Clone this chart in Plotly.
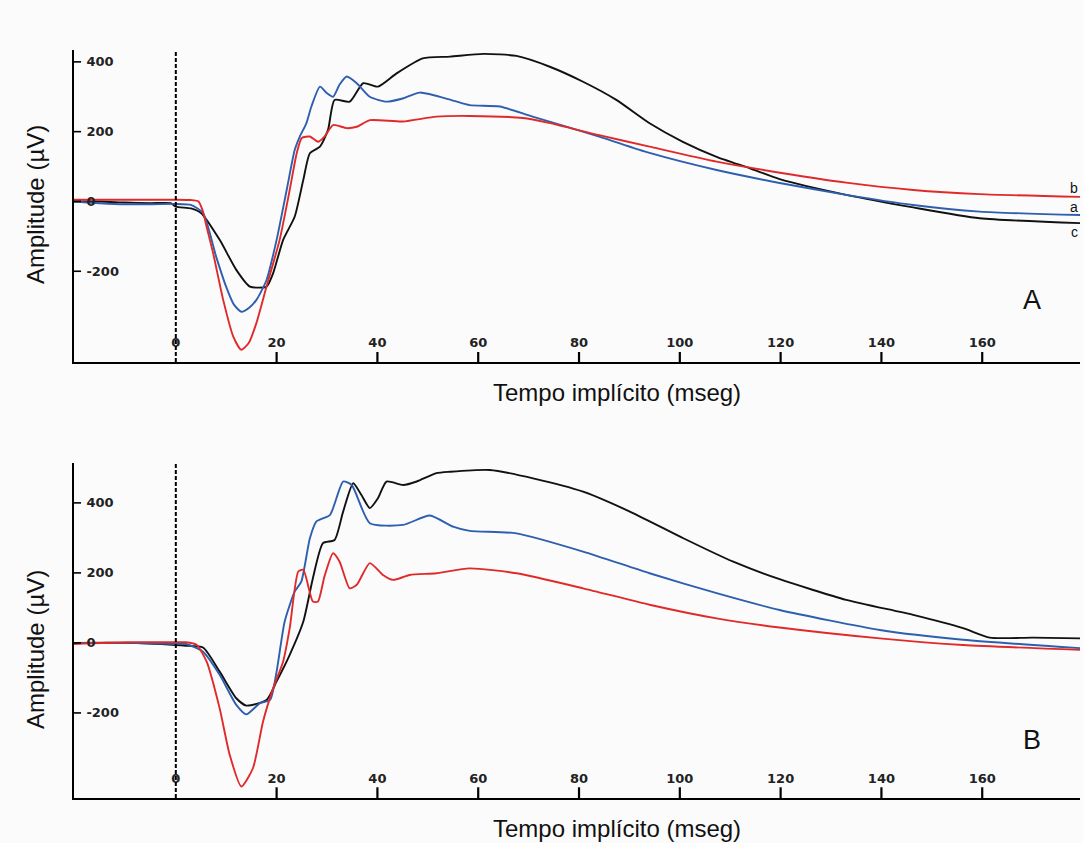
import plotly.graph_objects as go

# ---------------- Panel A data ----------------
a_red_x = [-20.2, -15, -10, -5, 0, 3, 4.5, 5.3, 6.1, 7.4, 9.4, 11.4, 13, 14.5, 16, 18, 20.6, 22.6, 24, 25, 26.6, 28.2,
           29.5, 31.2, 33.9, 35.9, 38.5, 45, 51.7, 58.3, 68.9, 74, 84, 94, 107.3, 120.5, 133, 146.3, 159.5, 179.4]
a_red_y = [5, 5, 5, 5, 5, 4, 0, -25, -72, -148, -282, -387, -425, -405, -348, -244, -110, 33, 139, 182, 186, 171,
           186, 219, 210, 214, 233, 229, 243, 245, 239, 225, 190, 157, 114, 81, 54, 33, 21, 13]

a_blue_x = [-20.2, -15, -10, -5, 0, 3, 5.4, 8, 10, 11.5, 13, 14.5, 16, 18, 20, 22, 23.6, 24.6, 25.9, 26.9, 28.6, 30,
            31.2, 32.5, 33.9, 35.9, 38.5, 41.8, 45, 48.4, 55, 58.3, 64.3, 70.8, 84, 94, 107.3, 119.8, 133, 146.3,
            159.5, 179.4]
a_blue_y = [0, -5, -8, -8, -7, -10, -33, -158, -245, -295, -316, -305, -282, -225, -110, 33, 148, 186, 224, 272, 329,
            310, 300, 335, 358, 339, 300, 286, 295, 312, 289, 276, 272, 243, 186, 139, 90, 53, 19, -10, -29, -39]

a_black_x = [-20.2, -15, -10, -5, -1, 0, 3, 5, 8.7, 12, 14.7, 18, 19.3, 21.3, 23.6, 25.3, 26.6, 28.6, 30.2, 31.5,
             34.5, 37.2, 40.1, 43.8, 49, 54.4, 61, 67.6, 74.2, 80.8, 87.4, 94, 100.6, 107.3, 113.9, 119.8, 133,
             146.3, 159.5, 179.4]
a_black_y = [0, 0, -3, -5, -5, -15, -20, -33, -110, -196, -244, -244, -206, -110, -43, 62, 138, 157, 205, 291, 286,
             339, 329, 367, 410, 415, 423, 417, 386, 343, 291, 224, 171, 128, 95, 64, 19, -17, -48, -62]

# ---------------- Panel B data ----------------
b_red_x = [-20.2, -10, 0, 2, 4.1, 6.1, 8.7, 10.7, 13, 15.3, 17.3, 19.3, 21.3, 22.6, 24.3, 25.3, 27.2, 28.2, 29.5,
           31.2, 32.5, 34.5, 35.9, 38.5, 41.1, 43.1, 46.4, 51.7, 58.3, 67.6, 80.8, 94, 107.3, 119.8, 139.7, 156.2,
           179.4]
b_red_y = [-3, 2, 2, 2, -5, -53, -187, -320, -410, -358, -225, -130, -53, 42, 204, 209, 118, 118, 190, 256, 232,
           156, 166, 228, 194, 180, 194, 199, 213, 199, 156, 109, 70, 44, 13, -6, -20]

b_blue_x = [-20.2, -10, 0, 2, 5.4, 8.7, 12, 14, 16.7, 18.7, 20, 21.6, 23.6, 24.9, 26.6, 27.9, 30.6, 33.2, 34.9, 38.5,
            45.1, 50.4, 55, 58.3, 67.6, 80.8, 94, 107.3, 119.8, 139.7, 156.2, 179.4]
b_blue_y = [0, 0, -3, -3, -25, -91, -177, -204, -172, -163, -82, 61, 147, 175, 299, 347, 366, 461, 451, 342, 337,
            364, 332, 320, 313, 261, 199, 142, 94, 37, 9, -15]

b_black_x = [-20.2, -10, 0, 2, 5.4, 8.7, 12, 14, 18, 20, 22.6, 25.3, 27.2, 29.2, 31.5, 33.2, 35.2, 36.8, 38.5, 40.1,
             41.8, 45.1, 47.8, 51.7, 54.4, 62.3, 70.9, 80.8, 90.7, 100.7, 110.6, 119.8, 133, 146.3, 156.2, 161.5,
             170, 179.4]
b_black_y = [0, 0, -6, -8, -13, -82, -158, -179, -163, -110, -34, 61, 185, 285, 294, 375, 456, 423, 385, 413, 461,
             451, 461, 485, 489, 494, 470, 432, 371, 299, 232, 182, 123, 80, 42, 15, 15, 13]

x_ticks = [0, 20, 40, 60, 80, 100, 120, 140, 160]
x_tick_text = ["0", "20", "40", "60", "80", "100", "120", "140", "160"]
y_ticks = [-200, 0, 200, 400]
y_tick_text = ["-200", "0", "200", "400"]

RED = "#e02a2a"
BLUE = "#2d5fae"
BLACK = "#111111"
BG = "#fbfbfc"

fig = go.Figure()
for xs, ys, c, xa, ya in [
    (a_black_x, a_black_y, BLACK, "x", "y"),
    (a_blue_x, a_blue_y, BLUE, "x", "y"),
    (a_red_x, a_red_y, RED, "x", "y"),
    (b_black_x, b_black_y, BLACK, "x2", "y2"),
    (b_blue_x, b_blue_y, BLUE, "x2", "y2"),
    (b_red_x, b_red_y, RED, "x2", "y2"),
]:
    fig.add_trace(go.Scatter(x=xs, y=ys, mode="lines", xaxis=xa, yaxis=ya,
                             line=dict(color=c, width=1.9, shape="spline", smoothing=0.6),
                             showlegend=False, hoverinfo="skip"))

tickfont = dict(family="DejaVu Sans", size=13, color="#222222", weight="bold")
xcommon = dict(range=[-20.2, 179.4], tickmode="array", tickvals=x_ticks, ticktext=x_tick_text,
               ticks="", ticklabelposition="inside", ticklabelstandoff=12,
               showline=True, linecolor="black", linewidth=2, showgrid=False, zeroline=False,
               tickfont=tickfont, layer="above traces")
ycommon = dict(tickmode="array", tickvals=y_ticks, ticktext=y_tick_text,
               ticks="", ticklabelposition="inside", ticklabelstandoff=12,
               showline=True, linecolor="black", linewidth=2, showgrid=False, zeroline=False,
               tickfont=tickfont, layer="above traces")

fig.update_layout(
    width=1083, height=843,
    margin=dict(l=74, r=3, t=50, b=45),
    paper_bgcolor=BG, plot_bgcolor=BG,
    xaxis=dict(anchor="y", domain=[0, 1], **xcommon),
    yaxis=dict(anchor="x", domain=[0.5829, 1.0], range=[-460, 434], **ycommon),
    xaxis2=dict(anchor="y2", domain=[0, 1], **xcommon),
    yaxis2=dict(anchor="x2", domain=[0.0, 0.4479], range=[-443, 514], **ycommon),
)

# tick marks drawn explicitly at the tick values
for xr, yr in [("x", "y"), ("x2", "y2")]:
    for t in x_ticks[1:]:
        fig.add_shape(type="line", xref=xr, yref=yr + " domain", x0=t, x1=t, y0=0, y1=0.032,
                      line=dict(color="black", width=2.2))
    for t in y_ticks:
        fig.add_shape(type="line", xref=xr + " domain", yref=yr, x0=0, x1=0.007, y0=t, y1=t,
                      line=dict(color="black", width=1.6))

# dashed stimulus lines at t = 0
fig.add_shape(type="line", xref="x", yref="y domain", x0=0, x1=0, y0=0, y1=1,
              line=dict(color="black", width=2, dash="4px,2px"))
fig.add_shape(type="line", xref="x2", yref="y2 domain", x0=0, x1=0, y0=0, y1=1,
              line=dict(color="black", width=2, dash="4px,2px"))

title_font = dict(family="Liberation Sans, Arial", size=24, color="#111111")
annos = [
    dict(text="Amplitude (µV)", x=35, y=205, angle=-90),
    dict(text="Amplitude (µV)", x=35, y=650, angle=-90),
    dict(text="Tempo implícito (mseg)", x=617, y=393, angle=0),
    dict(text="Tempo implícito (mseg)", x=617, y=828, angle=0),
]
for a in annos:
    fig.add_annotation(text=a["text"], xref="paper", yref="paper",
                       x=(a["x"] - 74) / (1083 - 77), y=(798 - a["y"]) / 748,
                       showarrow=False, textangle=a["angle"], font=title_font,
                       xanchor="center", yanchor="middle")

# panel letters
fig.add_annotation(text="A", xref="x", yref="y", x=169.8, y=-282, showarrow=False,
                   font=dict(family="Liberation Sans, Arial", size=27, color="#111111"))
fig.add_annotation(text="B", xref="x2", yref="y2", x=169.8, y=-277, showarrow=False,
                   font=dict(family="Liberation Sans, Arial", size=27, color="#111111"))

# curve labels a, b, c in panel A
for lab, yy in [("b", 39), ("a", -16), ("c", -87)]:
    fig.add_annotation(text=lab, xref="x", yref="y", x=178.3, y=yy, showarrow=False,
                       font=dict(family="Liberation Sans, Arial", size=14, color="#111111"))

fig.write_html("out.html")
